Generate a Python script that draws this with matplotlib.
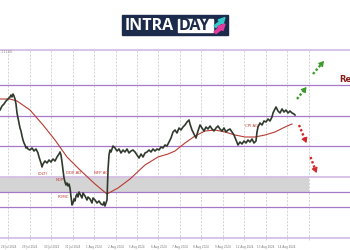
import matplotlib
matplotlib.use("Agg")
import matplotlib.pyplot as plt
from matplotlib.patches import Rectangle, Polygon
import numpy as np

# ---------------- data ----------------
def px2price(y):
    return round(1.1100 - (y - 50) * 0.0002, 5)

price_x = [0,2,4,6,8,10,11,12,13,14,15,16,17,18,19,20,21,22,23,24,25,26,27,28,30,32,34,36,38,39,40,41,42,43,45,47,49,51,53,55,57,59,60,61,62,63,64,65,66,67,68,69,70,71,72,73,74,75,76,77,78,79,80,82,83,85,87,88,90,92,93,95,97,99,101,103,104,105,106,107,108,109,110,111,113,115,117,119,121,123,125,127,129,131,133,135,137,139,141,143,145,147,149,151,153,155,157,159,161,163,165,167,169,171,173,175,177,179,181,183,185,187,189,190,192,194,196,198,200,202,204,206,208,210,212,214,216,218,220,222,224,226,228,230,232,234,236,238,240,242,244,246,248,250,252,254,256,257,258,260,262,264,266,268,270,272,273,275,276,278,280,282,284,286,288,290,292,294,295]
price_px = [110,106,104,101,99,97,95,97,94,96,99,104,113,118,123,128,131,136,140,143,145,148,147,149,150,148,151,149,153,157,160,163,167,164,161,163,160,162,159,161,157,154,152,155,162,170,178,182,185,183,186,184,188,197,205,203,199,201,196,194,197,192,194,198,193,196,200,197,199,203,198,200,203,201,204,205,202,206,203,200,170,155,150,152,146,148,151,149,153,150,152,149,153,151,150,152,155,158,154,157,153,152,150,152,149,151,149,150,147,148,145,146,142,138,132,130,133,128,130,127,125,122,120,124,130,134,138,131,125,128,131,127,129,126,129,131,128,126,129,131,128,132,130,129,132,135,140,145,142,144,141,143,140,142,139,143,141,132,127,123,125,121,122,119,121,117,113,109,107,111,113,109,112,110,113,111,113,114,115]
price = [px2price(v) for v in price_px]

ma_x = [0,10,17,30,43,55,67,80,95,107,118,130,145,158,168,175,185,195,205,215,225,235,245,255,265,275,285,292]
ma_px = [99,99,101,110,125,140,157,170,184,194,188,179,165,157,154,151,143,136,131,130,132,135,137,137,135,132,127,124]
ma = [px2price(v) for v in ma_px]

levels_dark = [1.1030, 1.0969, 1.0908, 1.0816, 1.0787]
levels_light = [1.1100, 1.0847, 1.0725]
band = (1.0816, 1.0847)

grid_x = [8.3 + 21.45 * k for k in range(15)]
date_labels = ["26 Jul 2024", "29 Jul 2024", "30 Jul 2024", "31 Jul 2024", "1 Aug 2024",
               "2 Aug 2024", "5 Aug 2024", "6 Aug 2024", "7 Aug 2024", "8 Aug 2024",
               "9 Aug 2024", "12 Aug 2024", "13 Aug 2024", "14 Aug 2024", "15 Aug 2024"]

events = [("(OLT)", 38, 174), ("DDP AD", 66, 173), ("NDP", 56, 180),
          ("FOMC", 58, 197), ("NFP AG", 94, 173), ("CPI AG", 245, 126)]

# ---------------- figure ----------------
fig = plt.figure(figsize=(3.5, 2.5), dpi=100)
fig.patch.set_facecolor("white")

top_px, bot_px = 45, 243
ax = fig.add_axes([0, (250 - bot_px) / 250, 1, (bot_px - top_px) / 250])
ax.set_xlim(0, 350)
ax.set_ylim(px2price(bot_px), px2price(top_px))
for s in ax.spines.values():
    s.set_visible(False)

# gray band
ax.fill_between([0, 308.5], band[0], band[1], color="#d4d4d4", zorder=1, lw=0)

# vertical dashed grid
for gx in grid_x:
    ax.plot([gx, gx], [px2price(240), px2price(50)], color="#c4c4c4",
            lw=0.5, ls=(0, (3, 2)), zorder=0.5)

for lv in levels_light:
    ax.axhline(lv, color="#d6bfe6", lw=1.3, zorder=2)
for lv in levels_dark:
    ax.axhline(lv, color="#a678c8", lw=0.9, zorder=2)

ax.plot(ma_x, ma, color="#b83a32", lw=0.8, zorder=3)
ax.plot(price_x, price, color="#2f3a2c", lw=1.2, zorder=4)

for txt, x, y in events:
    ax.text(x, px2price(y), txt, color="#c0392b", fontsize=2.8, ha="left", va="center", zorder=5)

ax.text(1, px2price(51.5), "1.1100", fontsize=2.5, color="#888888", va="center", ha="left")
ax.text(339, px2price(80), "Resistance", color="#8b1a1a", fontsize=6, fontweight="bold",
        va="center", ha="left", clip_on=False)

def arrow(x0, y0, x1, y1, c):
    # dotted shaft
    xs = [x0, x0 + (x1 - x0) * 0.8]
    ys = [px2price(y0), px2price(y0 + (y1 - y0) * 0.8)]
    ax.plot(xs, ys, color=c, lw=1.7, ls=(0, (1.0, 0.9)), zorder=6, solid_capstyle="butt",
            dash_capstyle="butt")
    # head
    ax.annotate("", xy=(x1, px2price(y1)), xytext=(x0 + (x1 - x0) * 0.75, px2price(y0 + (y1 - y0) * 0.75)),
                arrowprops=dict(arrowstyle="-|>,head_length=0.3,head_width=0.18",
                                color=c, lw=0.8, shrinkA=0, shrinkB=0), zorder=6)

arrow(297, 99, 306.5, 87, "#3a9a2a")
arrow(313, 74, 324, 61, "#3a9a2a")
arrow(299, 125, 306.5, 143, "#d42828")
arrow(310.5, 157, 316.5, 173, "#d42828")

ax.set_xticks(grid_x[:14])
ax.set_xticklabels(date_labels[:14], fontsize=2.0, color="#777777")
ax.tick_params(axis="x", length=0, pad=1.5)
ax.set_yticks([])

# ---------------- logo ----------------
lg = fig.add_axes([0, 0, 1, 1], zorder=10)
lg.set_xlim(0, 350)
lg.set_ylim(250, 0)
lg.axis("off")
lg.patch.set_alpha(0)
lg.add_patch(Rectangle((122, 15), 106, 20, color="#1c2b4c"))
lg.add_patch(Rectangle((177.5, 18.5), 35, 13.5, color="white"))
lg.text(125, 25.5, "INTRA", color="white", fontsize=11.5, fontweight="bold",
        family="Open Sans", va="center", ha="left")
lg.text(179, 25.5, "DAY", color="#1c2b4c", fontsize=11.5, fontweight="bold",
        family="Open Sans", va="center", ha="left")
lg.add_patch(Polygon([(214, 26), (220, 21), (218, 20), (225, 17.5), (223, 24), (221.5, 23), (216, 27.5)],
                     color="#35c8c8"))
lg.add_patch(Polygon([(214, 32), (219, 27.5), (217.5, 26.5), (225, 24), (223, 30.5), (221.5, 29.5), (216, 33.5)],
                     color="#e23a9e"))

fig.savefig("out.png", dpi=100)
